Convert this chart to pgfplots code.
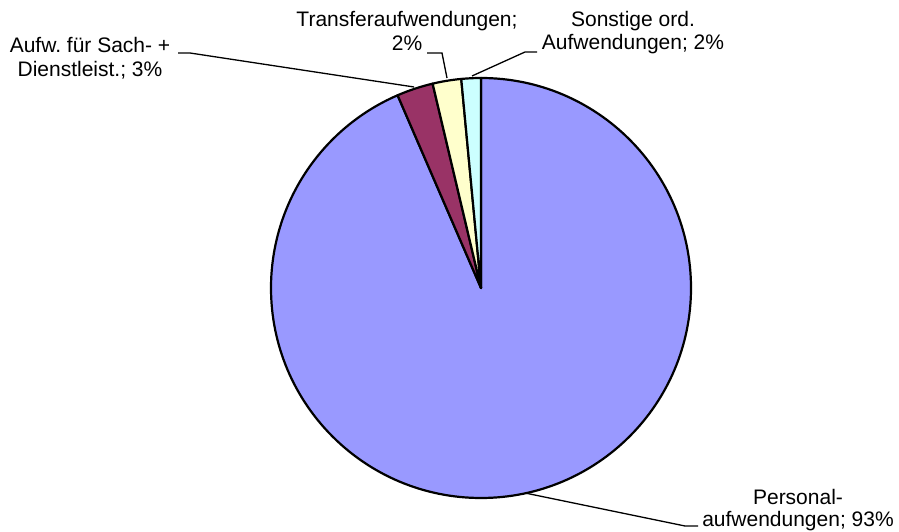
\documentclass[border=0pt]{standalone}
\usepackage{pgfplots}
\pgfplotsset{compat=1.18}
\usepackage{fontspec}
\setmainfont{Liberation Sans}
\frenchspacing
\definecolor{pers}{HTML}{9999FF}
\definecolor{sach}{HTML}{993366}
\definecolor{trans}{HTML}{FFFFCC}
\definecolor{sonst}{HTML}{CCFFFF}
% slice: start angle, percentage, colour (clockwise from 12 o'clock)
\newcommand{\slice}[3]{%
  \draw[black, line width=2.2pt, line join=round, fill=#3]
    (axis cs:481,244) -- ++(#1:210pt)
    arc[start angle=#1, end angle={#1-#2*3.6}, radius=210pt] -- cycle;}
\newcommand{\lbl}[3]{\node[anchor=base, inner sep=0pt] at (axis cs:#1,#2) {\frenchspacing #3};}
\begin{document}
\begin{tikzpicture}
\begin{axis}[
  hide axis, scale only axis, clip=false,
  x=1pt, y=1pt,
  xmin=0, xmax=899, ymin=0, ymax=532,
]
\path (axis cs:0,0) rectangle (axis cs:899,532);
% values in percent: Personal 93.5, Sach 2.8, Transfer 2.2, Sonstige 1.5
\slice{90}{93.5}{pers}
\slice{-246.6}{2.8}{sach}
\slice{-256.68}{2.2}{trans}
\slice{-264.6}{1.5}{sonst}
% leader lines
\draw[black, line width=1.3pt] (axis cs:178,479) -- (axis cs:190,479) -- (axis cs:414,445);
\draw[black, line width=1.3pt] (axis cs:427,479) -- (axis cs:442,479) -- (axis cs:447,454);
\draw[black, line width=1.3pt] (axis cs:537,480) -- (axis cs:525,480) -- (axis cs:472,456);
\draw[black, line width=1.3pt] (axis cs:525,39) -- (axis cs:685,6) -- (axis cs:698,6);
% labels
\fontsize{21}{24}\selectfont
\lbl{90}{479}{Aufw. für Sach- +}
\lbl{90}{455}{Dienstleist.; 3\%}
\lbl{407}{505}{Transferaufwendungen;}
\lbl{407}{481}{2\%}
\lbl{633}{505}{Sonstige ord.}
\lbl{633}{482}{Aufwendungen; 2\%}
\lbl{798}{27}{Personal-}
\lbl{798}{5}{aufwendungen; 93\%}
\end{axis}
\end{tikzpicture}
\end{document}
